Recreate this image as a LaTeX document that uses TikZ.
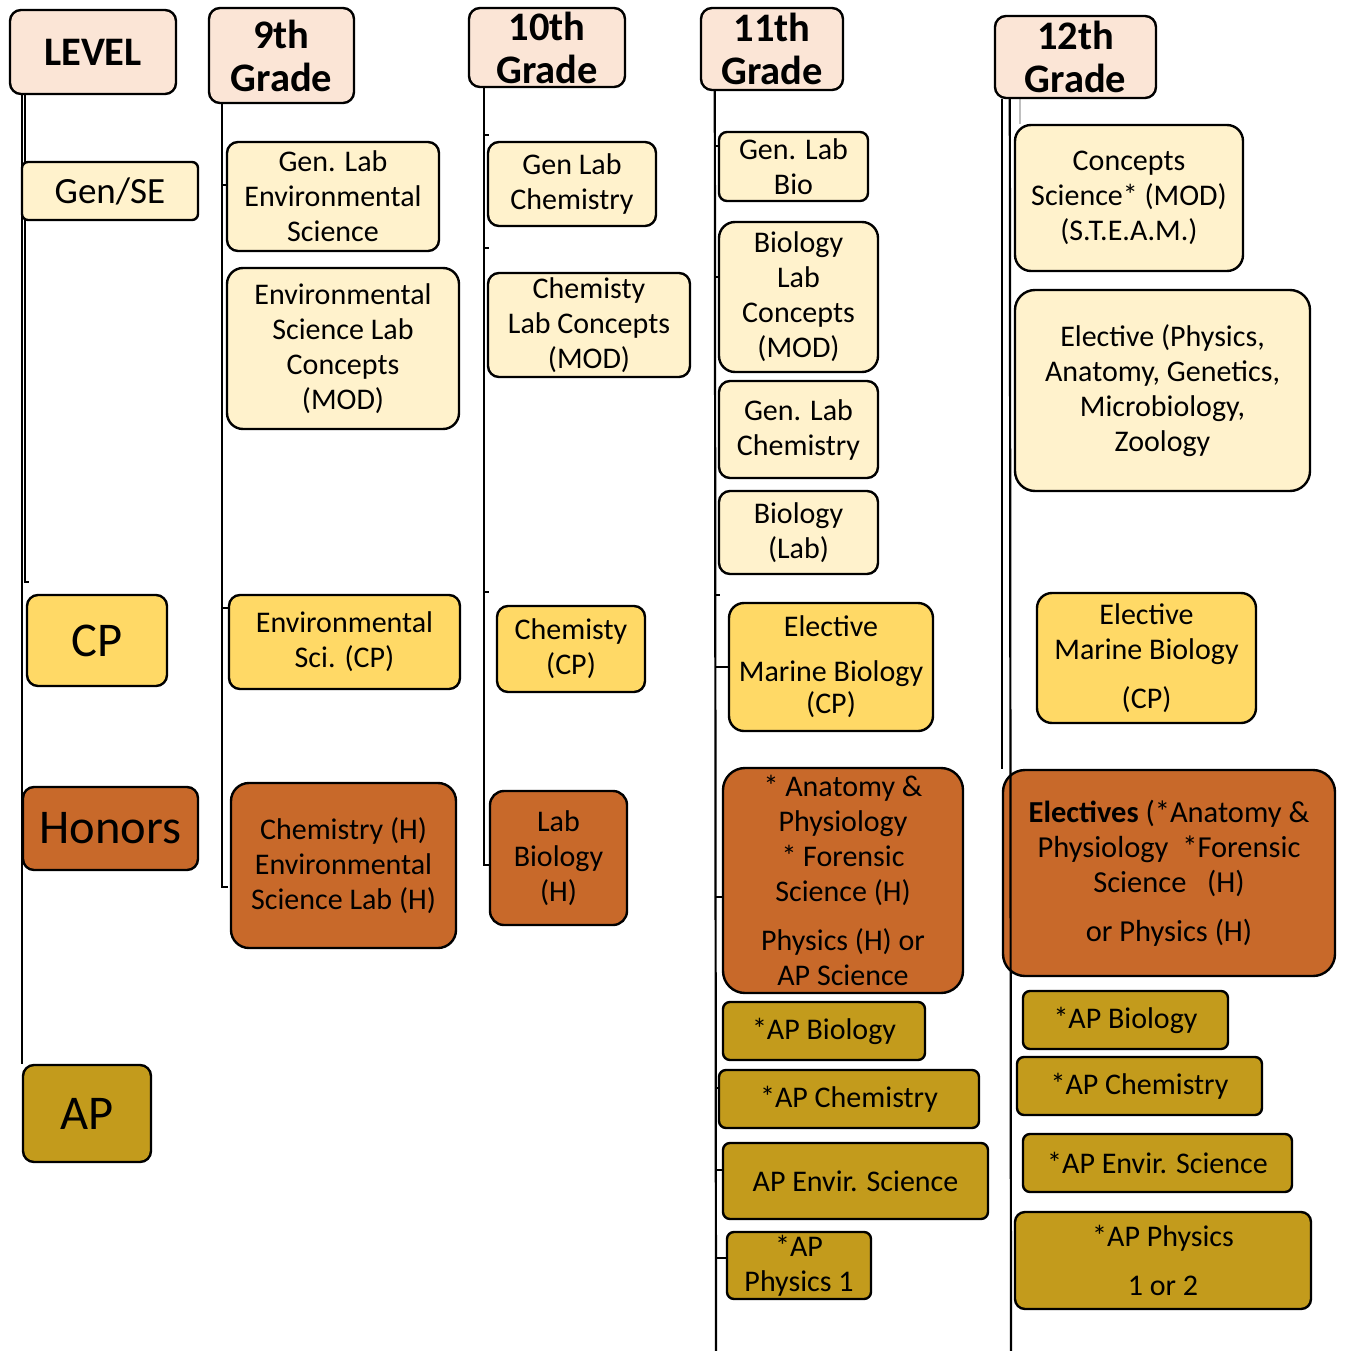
\documentclass[tikz,border=0pt]{standalone}
\usepackage{fontspec}
\setmainfont{Carlito}
\usetikzlibrary{backgrounds}
\definecolor{hdrc}{HTML}{FBE5D6}
\definecolor{genc}{HTML}{FFF2CC}
\definecolor{cpc}{HTML}{FFD966}
\definecolor{honc}{HTML}{C8692A}
\definecolor{apc}{HTML}{C39B1C}
\newcommand\bodyf{\fontsize{30}{35}\selectfont}
\newcommand\hdrf{\fontsize{40.5}{43}\selectfont\bfseries}
\newcommand\bigf{\fontsize{48.5}{50}\selectfont}
\newcommand\midf{\fontsize{37}{40}\selectfont}
\begin{document}
\begin{tikzpicture}[x=1pt,y=-1pt,
  bx/.style={draw=black,line width=2.4pt,rounded corners=11pt,inner sep=0pt,align=center,font=\bodyf},
  hdr/.style={bx,fill=hdrc,font=\hdrf},
  gen/.style={bx,fill=genc},
  cpb/.style={bx,fill=cpc},
  hon/.style={bx,fill=honc},
  apb/.style={bx,fill=apc},
  sz/.style 2 args={minimum width=#1,minimum height=#2},
  conn/.style={line width=2.2pt}
]
\useasboundingbox (0,0) rectangle (1344,1351);

% headers
\node[hdr,sz={166}{84}] (lev) at (93,52) {LEVEL};
\node[hdr,sz={145}{95}] (g9) at (281.5,55.5) {9th\\Grade};
\node[hdr,sz={156}{79}] (g10) at (547,47.5) {10th\\Grade};
\node[hdr,sz={142}{82}] (g11) at (772,49) {11th\\Grade};
\node[hdr,sz={161}{82}] (g12) at (1075.5,57) {12th\\Grade};

% Gen level
\node[gen,sz={176}{58},font=\midf,rounded corners=6pt] (gse) at (110,191) {Gen/SE};
\node[gen,sz={212}{109}] (a9) at (333,196.5) {Gen. Lab\\Environmental\\Science};
\node[gen,sz={232}{161},rounded corners=16pt] (b9) at (343,348.5) {Environmental\\Science Lab\\Concepts\\(MOD)};
\node[gen,sz={168}{84}] (a10) at (572,184) {Gen Lab\\Chemistry};
\node[gen,sz={202}{104}] (b10) at (589,325) {Chemisty\\Lab Concepts\\(MOD)};
\node[gen,sz={149}{69},rounded corners=8pt] (a11) at (793.5,166.5) {Gen. Lab\\Bio};
\node[gen,sz={159}{150},rounded corners=16pt] (b11) at (798.5,297) {Biology\\Lab\\Concepts\\(MOD)};
\node[gen,sz={159}{97}] (c11) at (798.5,429.5) {Gen. Lab\\Chemistry};
\node[gen,sz={159}{83}] (d11) at (798.5,532.5) {Biology\\(Lab)};
\node[gen,sz={228}{146},rounded corners=16pt] (a12) at (1129,198) {Concepts\\Science* (MOD)\\(S.T.E.A.M.)};
\node[gen,sz={295}{201},rounded corners=20pt] (b12) at (1162.5,390.5) {Elective (Physics,\\Anatomy, Genetics,\\Microbiology,\\Zoology};

% CP level
\node[cpb,sz={140}{91},font=\bigf] (cp) at (97,640.5) {CP};
\node[cpb,sz={231}{94}] (c9) at (344.5,642) {Environmental\\Sci. (CP)};
\node[cpb,sz={148}{86}] (c10) at (571,649) {Chemisty\\(CP)};
\node[cpb,sz={204}{128},rounded corners=15pt] (e11) at (831,667) {Elective\\[10pt]Marine Biology\\[-3pt](CP)};
\node[cpb,sz={219}{130},rounded corners=15pt] (c12) at (1146.5,658) {Elective\\Marine Biology\\[14pt](CP)};

% Honors level
\node[hon,sz={175}{83},font=\bigf] (hon) at (110.5,828.5) {Honors};
\node[hon,sz={225}{165},rounded corners=18pt] (h9) at (343.5,865.5) {Chemistry (H)\\Environmental\\Science Lab (H)};
\node[hon,sz={137}{134},rounded corners=14pt] (h10) at (558.5,858) {Lab\\Biology\\(H)};
\node[hon,sz={240}{225},rounded corners=22pt] (h11) at (843,880.5) {* Anatomy \&\\Physiology\\* Forensic\\Science (H)\\[14pt]Physics (H) or\\AP Science};
\node[hon,sz={332}{206},rounded corners=22pt,font=\fontsize{30.5}{35}\selectfont] (h12) at (1169,873) {\textbf{Electives} (*Anatomy \&\\Physiology\ \ *Forensic\\Science\ \ \ (H)\\[14pt]or Physics (H)};

% AP level
\node[apb,sz={128}{97},font=\bigf] (ap) at (87,1113.5) {AP};
\node[apb,sz={202}{58},rounded corners=7pt] (p11a) at (824,1031) {*AP Biology};
\node[apb,sz={260}{58},rounded corners=7pt] (p11b) at (849,1099) {*AP Chemistry};
\node[apb,sz={265}{76},rounded corners=7pt] (p11c) at (855.5,1181) {AP Envir. Science};
\node[apb,sz={144}{67},rounded corners=7pt] (p11d) at (799,1265.5) {*AP\\Physics 1};
\node[apb,sz={205}{58},rounded corners=7pt] (p12a) at (1125.5,1020) {*AP Biology};
\node[apb,sz={245}{58},rounded corners=7pt] (p12b) at (1139.5,1086) {*AP Chemistry};
\node[apb,sz={269}{58},rounded corners=7pt] (p12c) at (1157.5,1163) {*AP Envir. Science};
\node[apb,sz={296}{97},rounded corners=10pt] (p12d) at (1163,1260.5) {*AP Physics\\[14pt]1 or 2};

% connector coordinates
\coordinate (lh) at (29,582);
\coordinate (e9) at (228,887);
\coordinate (s9a) at (223,185);
\coordinate (s9b) at (223,608);
\coordinate (e10) at (489,865);
\coordinate (s10a) at (485,135);
\coordinate (s10b) at (485,248);
\coordinate (s10c) at (485,592);
\coordinate (b11end) at (716,1351);
\coordinate (s11a) at (716,146);
\coordinate (s11b) at (716,277);
\coordinate (s11c) at (716,595);
\coordinate (s11d) at (716,897);
\coordinate (s11e) at (716,1088);
\coordinate (s11f) at (716,1170);
\coordinate (s11g) at (716,1258);
\coordinate (b12end) at (1011,1351);
\coordinate (f12) at ([xshift=26pt]g12.south west);

\begin{scope}[on background layer]
  % level column
  \draw[conn] (ap.north west |- lev.south) -- (ap.north west);
  \draw[conn] ([xshift=16pt]lev.south west) |- (lh);
  % 9th grade
  \draw[conn] ([xshift=14pt]g9.south west) |- (e9);
  \draw[conn] (s9a) -- (s9a -| a9.west);
  \draw[conn] (s9b) -- (s9b -| c9.west);
  % 10th grade
  \draw[conn] ([xshift=16pt]g10.south west) |- (e10);
  \draw[conn] (s10a) -- ++(4,0);
  \draw[conn] (s10b) -- ++(4,0);
  \draw[conn] (s10c) -- ++(4,0);
  % 11th grade
  \draw[conn] ([xshift=15pt]g11.south west) -- (b11end);
  \draw[conn] (s11a) -- (s11a -| a11.west);
  \draw[conn] (s11b) -- (s11b -| b11.west);
  \draw[conn] (s11c) -- ++(4,0);
  \draw[conn] (e11.west -| s11a) -- (e11.west);
  \draw[conn] (s11d) -- (s11d -| h11.west);
  \draw[conn] (s11e) -- (s11e -| p11b.west);
  \draw[conn] (s11f) -- (s11f -| p11c.west);
  \draw[conn] (s11g) -- (s11g -| p11d.west);
  % 12th grade
  \draw[conn] ([xshift=8pt]g12.south west) -- (h12.north west);
  \draw[line width=2pt,black!25] (f12) -- (f12 |- a12.north);
\end{scope}
\draw[conn] ([xshift=16pt]g12.south west) -- (b12end);
\end{tikzpicture}
\end{document}
